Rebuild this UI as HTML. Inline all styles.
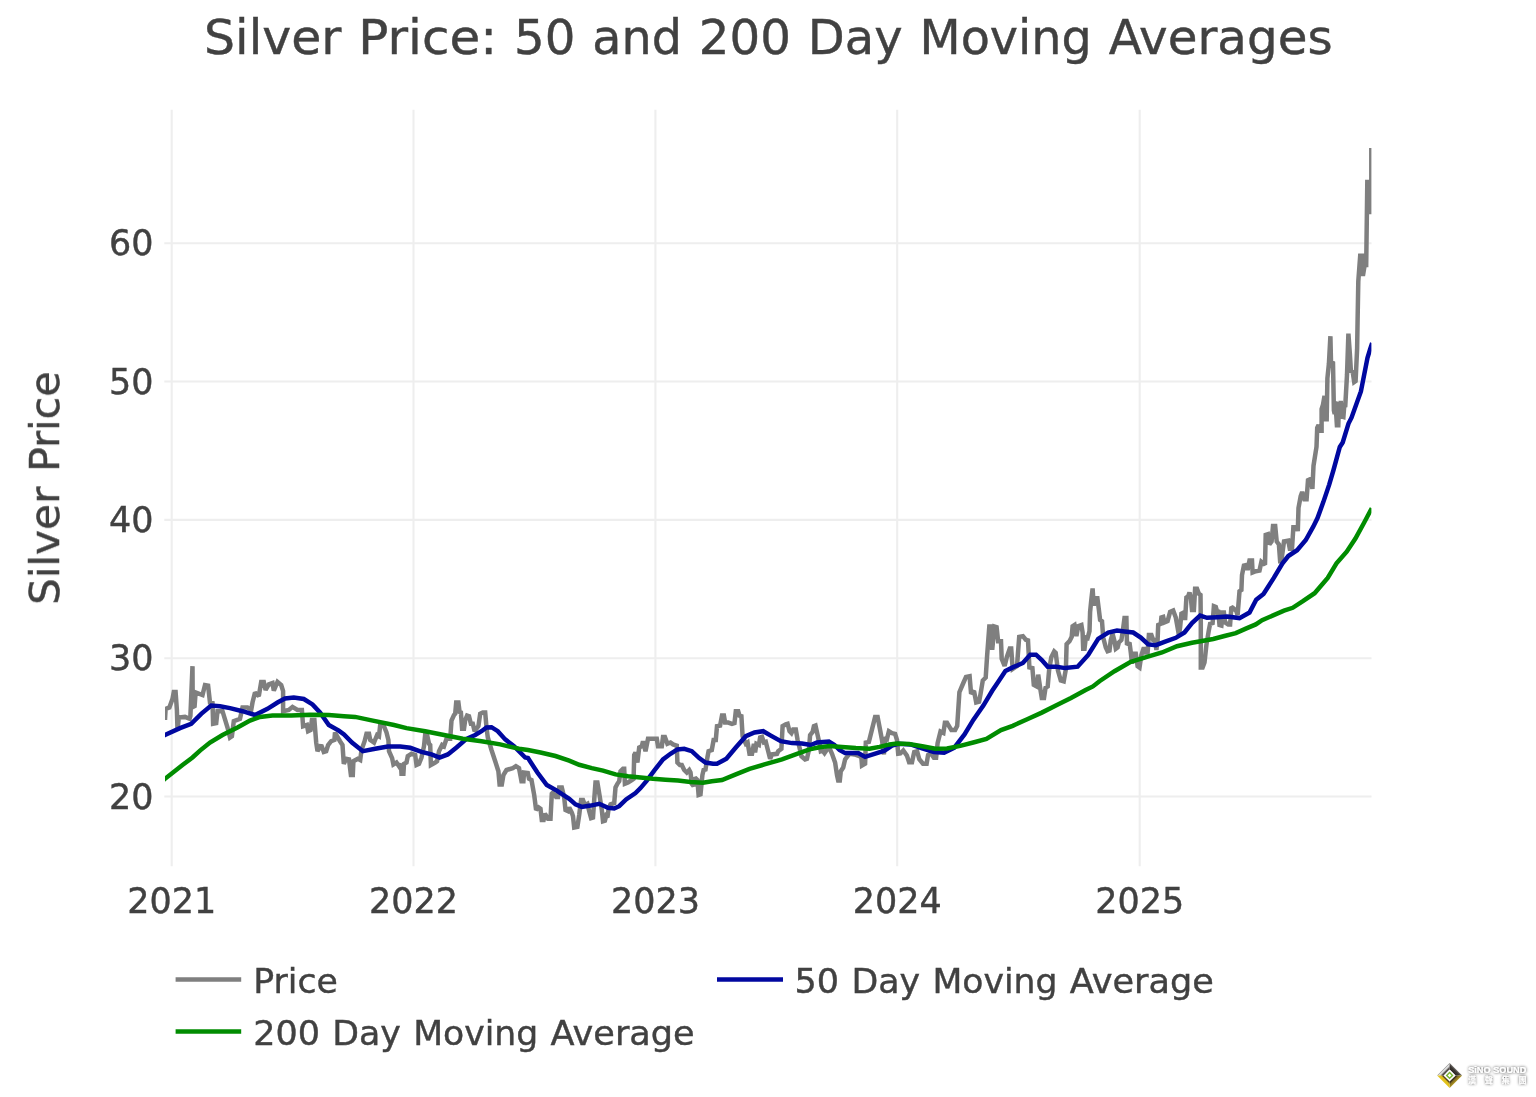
<!DOCTYPE html>
<html lang="en"><head><meta charset="utf-8"><title>Silver Price: 50 and 200 Day Moving Averages</title>
<style>
html,body{margin:0;padding:0;background:#fff;}
body{width:1536px;height:1097px;overflow:hidden;position:relative;}
svg{display:block;position:absolute;left:0;top:0;}
text{font-family:"DejaVu Sans", "Liberation Sans", Verdana, sans-serif;fill:#414141;stroke:#414141;stroke-width:0.42px;}
.g{stroke:#eeeeee;stroke-width:2.1;fill:none;}
.l{fill:none;stroke-width:4.5;stroke-linejoin:miter;stroke-miterlimit:2;stroke-linecap:butt;}
.wm{font-family:"Liberation Sans","Noto Sans CJK TC",sans-serif;fill:#fff;font-weight:bold;stroke:none;}
</style></head><body>
<svg width="1536" height="1097" viewBox="0 0 1536 1097">
<rect width="1536" height="1097" fill="#ffffff"/>
<defs><filter id="sh" x="-20%" y="-50%" width="140%" height="200%"><feGaussianBlur in="SourceAlpha" stdDeviation="1.4" result="b"/><feOffset in="b" dx="0.3" dy="0.4" result="o"/><feComponentTransfer in="o" result="s"><feFuncA type="linear" slope="0.85"/></feComponentTransfer><feMerge><feMergeNode in="s"/><feMergeNode in="SourceGraphic"/></feMerge></filter>
<linearGradient id="sil" x1="0" y1="0" x2="1" y2="1"><stop offset="0" stop-color="#f4f4f4"/><stop offset="0.5" stop-color="#8a8a8a"/><stop offset="1" stop-color="#3a3532"/></linearGradient>
<linearGradient id="gol" x1="0" y1="0" x2="1" y2="0"><stop offset="0" stop-color="#e8c81e"/><stop offset="0.5" stop-color="#c8a820"/><stop offset="1" stop-color="#5a4a20"/></linearGradient>
</defs>

<path class="g" d="M171.7,109.7V866.2"/>
<path class="g" d="M413.5,109.7V866.2"/>
<path class="g" d="M655.4,109.7V866.2"/>
<path class="g" d="M897.2,109.7V866.2"/>
<path class="g" d="M1139.7,109.7V866.2"/>
<path class="g" d="M164.3,243.2H1371.5"/>
<path class="g" d="M164.3,381.5H1371.5"/>
<path class="g" d="M164.3,519.85H1371.5"/>
<path class="g" d="M164.3,658.2H1371.5"/>
<path class="g" d="M164.3,796.5H1371.5"/>
<clipPath id="pc"><rect x="165" y="100" width="1206.4" height="780"/></clipPath><g clip-path="url(#pc)">
<path class="l" stroke="#7f7f7f" d="M165.0,720.0 L165.6,708.8 L169.4,707.5 L172.5,698.8 L173.8,691.9 L175.6,691.9 L176.9,710.0 L177.5,730.0 L178.8,717.5 L185.0,716.9 L189.6,718.8 L190.4,716.0 L192.5,666.2 L192.7,707.0 L194.6,706.0 L195.6,692.5 L202.5,695.0 L205.0,685.0 L208.1,685.6 L210.0,702.5 L212.5,703.0 L213.1,723.8 L216.2,723.1 L217.5,711.2 L222.5,711.2 L227.5,727.5 L230.0,737.5 L231.9,736.2 L233.8,721.2 L240.0,718.8 L242.5,707.5 L247.5,707.5 L251.2,710.0 L252.5,702.5 L255.0,692.5 L258.8,696.2 L261.2,681.9 L263.8,681.9 L265.6,690.0 L268.8,684.4 L272.5,683.1 L273.8,690.6 L277.5,681.9 L281.2,685.0 L283.1,691.2 L283.1,711.2 L288.8,710.0 L292.5,706.9 L297.5,710.0 L301.9,710.0 L303.1,726.2 L306.9,725.0 L308.1,731.2 L310.6,730.0 L311.9,720.0 L314.4,720.0 L316.2,742.5 L317.5,751.2 L321.2,745.0 L323.8,751.9 L326.2,751.2 L328.1,745.0 L331.2,741.2 L334.4,740.0 L335.0,732.5 L340.0,741.2 L342.5,745.0 L343.8,763.8 L346.2,758.8 L349.0,759.4 L350.9,775.0 L352.8,775.0 L353.4,761.2 L357.8,758.8 L360.2,760.0 L361.5,750.0 L364.6,741.2 L366.5,733.8 L369.0,733.8 L370.2,740.0 L374.0,742.5 L377.1,735.0 L379.0,736.2 L380.2,725.0 L383.4,725.0 L386.5,732.5 L388.4,740.0 L389.0,751.2 L392.1,758.1 L393.4,764.4 L396.5,762.5 L399.0,766.2 L400.9,763.8 L401.5,773.8 L403.4,773.8 L404.0,763.8 L406.5,762.5 L407.8,756.2 L411.5,753.8 L415.2,755.0 L416.5,765.0 L419.0,763.8 L421.5,757.5 L424.0,746.2 L425.2,734.4 L427.1,735.0 L429.0,743.8 L430.2,745.0 L430.9,765.0 L435.2,762.5 L437.1,761.2 L439.0,751.2 L442.1,745.0 L444.0,746.2 L446.5,738.8 L450.2,738.8 L451.5,720.6 L454.0,715.0 L455.2,713.8 L456.2,702.5 L458.4,702.5 L459.6,711.9 L460.9,712.5 L462.1,728.8 L464.0,728.8 L465.2,720.0 L467.1,715.6 L469.0,716.2 L470.9,723.8 L472.8,723.8 L474.6,731.2 L478.4,726.2 L480.2,713.8 L482.8,712.5 L485.2,712.5 L486.5,727.5 L487.8,737.5 L491.5,750.0 L495.2,761.2 L498.4,771.2 L499.6,784.4 L501.8,784.4 L503.4,775.0 L506.5,770.0 L512.8,768.1 L515.9,766.2 L519.0,768.1 L521.5,781.2 L523.4,781.2 L524.0,772.5 L527.8,773.1 L529.0,778.8 L531.5,780.0 L534.2,795.0 L536.1,810.0 L538.6,807.5 L540.5,808.8 L541.8,820.0 L543.6,820.0 L544.9,813.8 L548.0,818.8 L550.5,818.8 L551.8,793.8 L553.0,792.5 L556.1,796.9 L558.0,796.9 L559.2,787.5 L561.8,787.5 L564.2,797.5 L565.5,810.0 L568.0,811.2 L569.2,807.5 L571.8,812.5 L573.0,816.2 L574.2,827.5 L577.4,826.9 L579.2,815.0 L581.1,800.0 L583.0,800.0 L584.9,805.0 L587.4,803.8 L589.2,811.2 L591.1,818.1 L593.0,817.5 L594.2,800.0 L595.5,782.5 L597.4,782.5 L599.9,797.5 L601.8,810.0 L603.0,821.2 L604.9,820.6 L606.1,816.2 L607.4,817.5 L608.6,808.8 L610.5,804.4 L614.2,803.1 L615.5,787.5 L617.4,783.8 L619.2,781.2 L620.5,771.2 L623.0,768.8 L624.2,768.8 L624.9,783.8 L628.0,782.5 L631.8,780.0 L633.6,778.8 L634.2,755.0 L635.5,752.5 L637.4,762.5 L639.2,747.5 L641.8,746.2 L643.0,741.2 L645.5,751.2 L648.0,738.8 L653.0,738.8 L656.8,738.8 L658.0,746.2 L661.8,746.2 L663.0,736.9 L664.9,736.9 L667.4,743.8 L670.5,742.5 L673.0,744.4 L676.8,745.6 L677.4,762.5 L679.9,765.0 L681.8,765.0 L684.2,770.0 L686.8,772.5 L689.2,770.0 L690.5,772.5 L691.8,783.8 L693.6,786.2 L694.9,777.5 L697.4,780.0 L698.6,795.0 L700.5,794.4 L702.4,775.0 L703.6,770.0 L705.5,769.4 L707.4,757.5 L708.6,751.2 L711.8,750.0 L713.6,740.0 L715.8,740.0 L717.0,726.2 L720.1,725.6 L722.0,715.6 L723.9,715.6 L725.1,722.5 L728.2,722.5 L732.0,723.8 L734.5,723.1 L735.8,711.2 L738.2,711.2 L739.5,715.6 L741.4,716.2 L742.6,736.2 L745.8,743.8 L747.6,742.5 L749.5,753.8 L752.0,753.8 L753.9,743.8 L755.1,752.5 L756.4,743.8 L758.9,745.0 L760.1,737.5 L762.0,736.9 L763.9,742.5 L765.8,741.9 L768.2,751.2 L770.1,758.8 L772.0,754.4 L777.0,753.8 L778.2,751.2 L781.4,748.8 L782.6,726.2 L785.8,724.4 L787.6,723.8 L789.5,731.2 L791.4,733.1 L793.2,729.4 L795.8,729.4 L797.6,740.0 L799.5,747.5 L801.4,756.2 L805.1,759.4 L807.0,758.8 L808.9,750.0 L810.1,735.0 L812.6,731.9 L813.9,726.2 L815.5,725.6 L817.6,735.0 L819.5,743.8 L820.8,751.2 L822.6,750.6 L824.5,753.1 L827.0,749.4 L829.5,748.1 L832.0,753.8 L835.1,762.5 L837.0,775.0 L838.2,780.6 L839.8,780.6 L840.8,771.2 L843.2,767.5 L845.1,759.4 L847.6,756.2 L849.5,753.8 L854.5,754.4 L859.5,756.2 L861.4,757.5 L862.0,765.6 L865.1,763.8 L865.8,742.5 L868.9,741.9 L872.0,729.4 L875.1,716.9 L877.6,716.9 L880.1,730.0 L882.0,740.0 L883.9,754.4 L885.1,737.5 L887.0,738.8 L888.9,731.2 L892.0,733.1 L895.1,733.8 L897.0,740.0 L898.2,753.8 L900.4,753.5 L903.3,750.5 L906.9,755.6 L909.1,762.2 L912.0,762.2 L914.2,752.0 L917.1,751.3 L919.3,759.3 L923.0,763.7 L926.6,763.7 L928.1,754.9 L931.0,753.5 L933.9,757.8 L936.1,757.8 L937.6,743.2 L940.5,731.6 L943.4,733.0 L944.9,722.8 L947.0,722.8 L951.4,730.1 L955.1,730.1 L957.2,725.8 L959.4,692.2 L963.1,683.5 L966.0,676.9 L969.6,676.2 L971.1,693.7 L974.0,690.8 L976.2,702.4 L979.1,701.7 L980.6,693.7 L982.8,680.5 L985.7,677.6 L987.1,655.8 L989.3,626.6 L991.5,626.6 L992.2,649.9 L994.4,626.6 L996.6,627.3 L998.1,641.2 L1001.0,641.2 L1001.7,658.7 L1004.6,666.0 L1006.8,657.2 L1009.8,648.5 L1011.2,648.5 L1012.7,668.9 L1017.0,666.0 L1019.2,636.8 L1022.9,636.1 L1025.8,639.7 L1028.0,640.4 L1029.4,667.4 L1032.4,668.1 L1033.8,684.9 L1036.7,686.4 L1038.2,674.7 L1040.4,689.3 L1041.8,698.0 L1044.0,698.0 L1045.5,687.8 L1047.7,686.4 L1049.1,670.3 L1051.3,657.2 L1054.2,651.4 L1055.7,652.8 L1057.9,670.3 L1060.8,680.5 L1063.7,681.3 L1065.9,668.9 L1066.6,644.1 L1069.5,641.2 L1071.7,636.8 L1072.6,626.2 L1074.5,625.0 L1076.4,636.2 L1078.2,626.2 L1081.4,625.0 L1082.6,632.5 L1083.2,648.8 L1084.5,648.8 L1085.8,637.5 L1087.6,638.1 L1089.5,631.2 L1090.1,612.0 L1091.3,600.0 L1092.6,588.5 L1093.7,605.5 L1095.2,598.2 L1097.4,598.2 L1098.9,610.0 L1100.1,620.0 L1102.0,621.2 L1103.2,637.5 L1105.8,647.5 L1107.6,651.2 L1109.5,650.6 L1110.8,640.0 L1112.6,633.8 L1114.5,641.2 L1115.8,648.8 L1117.6,647.5 L1118.9,642.5 L1121.4,640.0 L1122.6,632.5 L1124.5,618.1 L1126.4,618.1 L1127.0,645.0 L1129.5,642.5 L1130.8,652.5 L1132.0,663.8 L1133.2,653.8 L1135.8,653.8 L1137.6,666.2 L1139.5,667.5 L1141.4,655.0 L1143.9,647.5 L1145.8,652.5 L1147.6,652.5 L1148.9,635.0 L1151.4,635.0 L1153.2,640.0 L1155.1,640.0 L1156.4,650.0 L1157.6,640.0 L1158.2,625.0 L1160.8,623.8 L1161.4,617.5 L1163.2,616.9 L1164.5,622.5 L1167.6,621.2 L1170.1,611.9 L1173.2,610.6 L1175.8,617.5 L1177.6,627.5 L1178.9,635.0 L1180.1,627.5 L1181.4,613.8 L1183.9,612.5 L1185.1,620.0 L1186.4,597.5 L1188.2,596.2 L1189.5,592.5 L1190.8,597.5 L1192.0,610.0 L1193.9,610.0 L1195.1,588.8 L1197.0,588.8 L1198.9,593.8 L1200.5,595.0 L1200.8,622.5 L1200.8,667.5 L1202.6,667.5 L1204.5,662.5 L1206.4,645.0 L1208.9,630.0 L1210.1,623.8 L1212.6,623.1 L1213.9,606.2 L1215.8,606.9 L1217.0,611.2 L1218.2,610.0 L1219.5,625.0 L1221.4,625.6 L1222.6,612.5 L1223.9,612.5 L1225.1,622.5 L1228.2,624.4 L1230.1,624.4 L1231.4,606.9 L1233.9,608.8 L1236.4,611.2 L1237.6,615.0 L1239.5,591.2 L1241.4,590.0 L1242.0,575.0 L1243.9,565.6 L1246.4,565.0 L1247.6,570.0 L1249.5,560.5 L1252.0,560.5 L1252.6,572.5 L1255.8,571.2 L1259.5,570.5 L1261.4,561.9 L1265.0,564.8 L1265.7,534.9 L1267.9,534.2 L1269.4,544.4 L1271.6,541.5 L1273.0,526.1 L1275.2,526.1 L1276.7,541.5 L1278.9,544.4 L1280.3,563.3 L1281.8,557.5 L1284.0,541.5 L1288.3,540.7 L1289.8,548.8 L1292.0,548.8 L1293.4,526.9 L1297.1,526.1 L1297.8,531.2 L1298.5,507.9 L1300.7,496.2 L1302.2,491.9 L1304.4,499.2 L1306.6,499.2 L1308.0,480.2 L1310.9,478.8 L1312.4,489.0 L1313.5,465.8 L1316.5,446.9 L1317.2,427.9 L1318.6,425.0 L1320.1,430.8 L1321.6,430.8 L1321.6,409.0 L1323.0,404.6 L1324.5,395.8 L1325.2,419.2 L1326.7,419.2 L1327.4,378.3 L1328.9,363.8 L1330.4,336.2 L1331.0,361.8 L1333.0,363.0 L1333.9,410.4 L1334.7,414.0 L1335.4,401.5 L1336.2,414.0 L1336.9,425.3 L1338.3,425.3 L1339.0,402.0 L1339.9,413.0 L1340.7,401.0 L1342.0,416.5 L1343.4,417.0 L1344.3,405.0 L1345.2,407.0 L1347.0,375.0 L1348.4,333.7 L1349.8,353.0 L1350.9,371.0 L1352.7,372.0 L1354.2,382.0 L1355.6,381.0 L1357.1,349.2 L1357.6,320.0 L1358.3,281.3 L1360.2,255.8 L1362.9,255.8 L1362.9,275.9 L1364.7,264.9 L1366.2,264.9 L1367.3,182.0 L1369.3,182.0 L1369.8,214.0 L1371.3,203.0 L1371.3,148.0"/>
<path class="l" stroke="#0008a0" d="M162.5,736.1 L165.0,735.0 L180.0,728.1 L191.2,723.8 L201.2,713.8 L211.2,705.6 L220.0,706.2 L230.0,708.1 L242.5,711.2 L255.0,715.0 L267.5,708.8 L277.5,702.5 L285.0,698.5 L293.8,697.5 L303.8,699.0 L312.5,704.4 L320.0,712.5 L328.8,725.0 L338.8,730.6 L344.0,734.4 L352.0,742.5 L362.8,751.2 L375.2,748.8 L387.8,746.5 L400.2,746.5 L410.2,747.8 L421.5,751.9 L431.5,754.4 L439.6,757.5 L447.8,754.4 L456.5,747.5 L466.5,738.8 L475.2,735.0 L481.5,731.2 L486.5,727.5 L491.5,727.2 L497.8,731.2 L505.2,739.4 L514.0,746.2 L525.2,757.5 L528.0,758.1 L537.4,772.5 L546.8,785.0 L556.8,790.6 L569.2,798.8 L575.5,804.4 L581.8,806.9 L590.5,805.6 L599.2,803.8 L608.0,807.8 L614.2,808.5 L619.2,806.2 L626.1,799.4 L635.5,793.1 L640.5,788.1 L646.8,780.6 L654.2,770.6 L663.0,759.4 L670.5,753.8 L677.4,749.4 L684.2,748.8 L691.8,751.2 L699.2,758.1 L705.5,762.5 L713.0,763.8 L717.0,763.8 L726.4,758.8 L735.8,747.5 L745.8,736.2 L754.5,732.5 L763.2,731.2 L770.8,735.6 L780.8,741.2 L792.0,743.1 L802.0,743.5 L810.8,745.0 L817.0,742.5 L828.9,741.5 L834.5,745.0 L839.5,750.0 L845.1,753.1 L858.2,753.1 L865.1,756.9 L874.5,753.8 L884.5,750.6 L892.0,745.6 L898.2,743.8 L910.6,744.4 L922.2,748.4 L933.9,752.0 L944.1,752.7 L954.3,747.6 L964.5,734.5 L973.3,719.9 L983.5,705.3 L992.2,690.8 L998.1,682.0 L1005.4,671.1 L1012.7,667.4 L1022.9,663.0 L1030.2,654.7 L1036.0,654.7 L1041.8,660.1 L1047.7,666.7 L1056.4,666.7 L1065.2,668.1 L1077.6,666.7 L1088.2,655.0 L1098.2,638.8 L1108.2,632.5 L1117.0,630.6 L1124.5,631.5 L1133.2,632.5 L1140.8,637.5 L1148.2,644.4 L1155.8,645.2 L1164.5,641.9 L1175.8,637.8 L1184.5,632.5 L1192.0,623.1 L1200.1,615.6 L1207.0,617.8 L1217.0,617.2 L1227.0,616.5 L1239.5,618.1 L1249.5,612.5 L1256.2,599.8 L1263.5,594.0 L1273.8,577.9 L1282.5,563.3 L1288.3,556.0 L1297.1,550.2 L1305.8,540.0 L1313.1,526.9 L1317.5,518.1 L1323.3,502.1 L1329.2,484.6 L1333.5,470.0 L1339.8,446.9 L1342.7,442.5 L1348.5,423.5 L1351.5,417.7 L1360.9,391.5 L1367.5,357.9 L1370.2,349.0 L1372.2,343.0"/>
<path class="l" stroke="#008c00" d="M162.5,780.7 L165.0,778.8 L182.5,765.0 L192.5,757.5 L200.0,750.6 L210.0,742.5 L222.5,735.0 L237.5,727.5 L250.0,720.6 L260.0,716.9 L272.5,715.6 L291.2,715.6 L310.0,714.8 L328.8,715.0 L344.0,716.2 L355.2,716.9 L372.8,720.6 L394.0,725.0 L406.5,728.1 L425.2,731.2 L444.0,735.0 L462.8,738.8 L481.5,741.2 L500.2,744.4 L519.0,748.8 L528.0,750.0 L540.5,752.5 L555.5,756.0 L569.2,760.6 L579.2,764.8 L591.8,768.1 L603.0,770.6 L615.5,774.4 L628.0,776.2 L640.5,777.5 L653.0,778.8 L665.5,779.8 L678.0,780.6 L690.5,781.9 L703.0,782.8 L711.8,781.2 L722.0,780.0 L735.8,774.4 L749.5,768.8 L764.5,764.4 L782.0,759.4 L797.0,753.8 L809.5,749.4 L819.5,747.2 L829.5,746.0 L842.0,746.9 L855.8,748.1 L869.5,748.8 L879.5,746.9 L889.5,744.4 L897.0,743.5 L909.1,744.0 L922.2,746.2 L935.4,748.8 L947.0,748.4 L960.2,745.9 L973.3,742.5 L986.4,738.9 L1001.0,730.1 L1012.7,725.8 L1027.2,719.2 L1041.8,712.6 L1056.4,705.3 L1071.0,698.0 L1085.6,690.0 L1092.9,686.4 L1099.5,681.2 L1114.5,671.2 L1130.8,661.9 L1147.0,656.9 L1162.0,652.5 L1177.0,646.2 L1192.0,642.8 L1202.0,641.0 L1213.2,639.0 L1224.5,636.0 L1235.8,633.1 L1247.0,628.1 L1255.8,624.4 L1262.1,620.2 L1284.0,610.7 L1292.7,607.8 L1302.9,601.2 L1314.6,593.2 L1327.7,577.9 L1336.5,563.3 L1346.7,551.7 L1355.4,538.5 L1364.2,522.5 L1371.8,508.2"/>
</g>
<g opacity="0.999">
<text x="204.00" y="53.6" font-size="47.67" textLength="137.35" lengthAdjust="spacingAndGlyphs">Silver</text>
<text x="358.32" y="53.6" font-size="47.67" textLength="138.72" lengthAdjust="spacingAndGlyphs">Price:</text>
<text x="514.00" y="53.6" font-size="47.67" textLength="61.35" lengthAdjust="spacingAndGlyphs">50</text>
<text x="592.31" y="53.6" font-size="47.67" textLength="89.57" lengthAdjust="spacingAndGlyphs">and</text>
<text x="698.85" y="53.6" font-size="47.67" textLength="92.02" lengthAdjust="spacingAndGlyphs">200</text>
<text x="807.83" y="53.6" font-size="47.67" textLength="94.71" lengthAdjust="spacingAndGlyphs">Day</text>
<text x="919.51" y="53.6" font-size="47.67" textLength="172.34" lengthAdjust="spacingAndGlyphs">Moving</text>
<text x="1108.81" y="53.6" font-size="47.67" textLength="223.79" lengthAdjust="spacingAndGlyphs">Averages</text>
<g transform="translate(59,488.2) rotate(-90)"><text x="-116.88" y="0" font-size="41.10" textLength="118.42" lengthAdjust="spacingAndGlyphs">Silver</text>
<text x="16.17" y="0" font-size="41.10" textLength="100.71" lengthAdjust="spacingAndGlyphs">Price</text></g>
<text x="153.6" y="255.4" font-size="34.7" text-anchor="end" textLength="44.5" lengthAdjust="spacingAndGlyphs">60</text>
<text x="153.6" y="393.7" font-size="34.7" text-anchor="end" textLength="44.5" lengthAdjust="spacingAndGlyphs">50</text>
<text x="153.6" y="532.1" font-size="34.7" text-anchor="end" textLength="44.5" lengthAdjust="spacingAndGlyphs">40</text>
<text x="153.6" y="670.4" font-size="34.7" text-anchor="end" textLength="44.5" lengthAdjust="spacingAndGlyphs">30</text>
<text x="153.6" y="808.7" font-size="34.7" text-anchor="end" textLength="44.5" lengthAdjust="spacingAndGlyphs">20</text>
<text x="171.7" y="913.2" font-size="34.7" text-anchor="middle" textLength="89" lengthAdjust="spacingAndGlyphs">2021</text>
<text x="413.5" y="913.2" font-size="34.7" text-anchor="middle" textLength="89" lengthAdjust="spacingAndGlyphs">2022</text>
<text x="655.4" y="913.2" font-size="34.7" text-anchor="middle" textLength="89" lengthAdjust="spacingAndGlyphs">2023</text>
<text x="897.2" y="913.2" font-size="34.7" text-anchor="middle" textLength="89" lengthAdjust="spacingAndGlyphs">2024</text>
<text x="1139.7" y="913.2" font-size="34.7" text-anchor="middle" textLength="89" lengthAdjust="spacingAndGlyphs">2025</text>
<path class="l" stroke="#7f7f7f" d="M175.6,979.4H241.2"/>
<path class="l" stroke="#008c00" d="M175.6,1031.6H241.2"/>
<path class="l" stroke="#0008a0" d="M717,979.4H783"/>
<text x="253.20" y="993" font-size="34.58" textLength="84.73" lengthAdjust="spacingAndGlyphs">Price</text>
<text x="253.20" y="1045.2" font-size="34.58" textLength="66.75" lengthAdjust="spacingAndGlyphs">200</text>
<text x="332.26" y="1045.2" font-size="34.58" textLength="68.70" lengthAdjust="spacingAndGlyphs">Day</text>
<text x="413.26" y="1045.2" font-size="34.58" textLength="125.01" lengthAdjust="spacingAndGlyphs">Moving</text>
<text x="550.58" y="1045.2" font-size="34.58" textLength="144.10" lengthAdjust="spacingAndGlyphs">Average</text>
<text x="794.60" y="993" font-size="34.58" textLength="44.50" lengthAdjust="spacingAndGlyphs">50</text>
<text x="851.41" y="993" font-size="34.58" textLength="68.70" lengthAdjust="spacingAndGlyphs">Day</text>
<text x="932.41" y="993" font-size="34.58" textLength="125.01" lengthAdjust="spacingAndGlyphs">Moving</text>
<text x="1069.73" y="993" font-size="34.58" textLength="144.10" lengthAdjust="spacingAndGlyphs">Average</text>
</g>
<g>
<defs>
<linearGradient id="fTL" gradientUnits="userSpaceOnUse" x1="1443.35" y1="1069.15" x2="1446.6499999999999" y2="1072.45"><stop offset="0" stop-color="#7a7a7a"/><stop offset="0.28" stop-color="#f4f4f4"/><stop offset="0.5" stop-color="#b8b8b8"/><stop offset="0.66" stop-color="#666260"/><stop offset="1" stop-color="#38302a"/></linearGradient>
<linearGradient id="fTR" gradientUnits="userSpaceOnUse" x1="1455.85" y1="1069.15" x2="1452.55" y2="1072.45"><stop offset="0" stop-color="#74706c"/><stop offset="0.4" stop-color="#3c3734"/><stop offset="1" stop-color="#2c2624"/></linearGradient>
<linearGradient id="fBL" gradientUnits="userSpaceOnUse" x1="1443.35" y1="1081.65" x2="1446.6499999999999" y2="1078.3500000000001"><stop offset="0" stop-color="#e6c61c"/><stop offset="0.6" stop-color="#dcbc1c"/><stop offset="0.72" stop-color="#5e4c20"/><stop offset="1" stop-color="#4a3a1c"/></linearGradient>
<linearGradient id="fBR" gradientUnits="userSpaceOnUse" x1="1455.85" y1="1081.65" x2="1452.55" y2="1078.3500000000001"><stop offset="0" stop-color="#b09620"/><stop offset="0.55" stop-color="#7c6820"/><stop offset="0.72" stop-color="#40341e"/><stop offset="1" stop-color="#3a2e1c"/></linearGradient>
</defs>
<polygon points="1437.10,1075.40 1449.60,1062.90 1449.60,1069.50 1443.70,1075.40" fill="url(#fTL)"/>
<polygon points="1449.60,1062.90 1462.10,1075.40 1455.50,1075.40 1449.60,1069.50" fill="url(#fTR)"/>
<polygon points="1462.10,1075.40 1449.60,1087.90 1449.60,1081.30 1455.50,1075.40" fill="url(#fBR)"/>
<polygon points="1449.60,1087.90 1437.10,1075.40 1443.70,1075.40 1449.60,1081.30" fill="url(#fBL)"/>
<polygon points="1443.70,1075.40 1449.60,1069.50 1455.50,1075.40 1449.60,1081.30" fill="#ffffff"/>
<polygon points="1445.70,1075.40 1449.60,1071.50 1453.50,1075.40 1449.60,1079.30" fill="#78b52e"/>
<polygon points="1447.70,1075.40 1449.60,1073.50 1451.50,1075.40 1449.60,1077.30" fill="#ffffff"/>
</g>
<g filter="url(#sh)"><text class="wm" x="1468.2" y="1073.0" font-size="9.8" textLength="58.2" lengthAdjust="spacingAndGlyphs">SiNO SOUND</text>
<text class="wm" x="1468.2" y="1083.4" font-size="7.7" textLength="58.2" lengthAdjust="spacing">漢聲集團</text></g>
</svg></body></html>
